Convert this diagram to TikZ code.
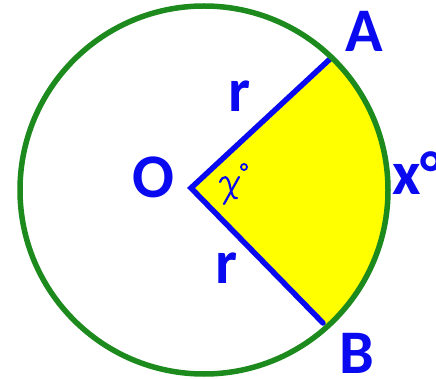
\documentclass[tikz,border=0pt]{standalone}
\usepackage{fontspec}
\setmainfont{Carlito}
\usepackage{tikz}
\usetikzlibrary{calc}
\definecolor{sectorblue}{RGB}{10,10,240}
\definecolor{ringgreen}{RGB}{28,138,28}
\definecolor{sectoryellow}{RGB}{255,255,0}
\tikzset{
  lbl/.style={text=sectorblue, inner sep=0pt,
    font=\fontsize{62}{62}\selectfont\bfseries},
  radius line/.style={line width=5.5pt, sectorblue, line cap=round, line join=miter},
  mark line/.style={sectorblue, line width=2.2pt, line cap=round}
}

\begin{document}
\begin{tikzpicture}[x=1pt, y=-1pt]

  \useasboundingbox (0,0) rectangle (436,379);

  % === POINTS ===
  \coordinate (C) at (204,190);
  \coordinate (O) at (191,188);
  \coordinate (A) at (330,59);
  \coordinate (B) at (323,323);

  % Shaded sector
  \begin{scope}
    \clip (O) -- ($(O)!2!(A)$) -- ($(O)!2!(B)$) -- cycle;
    \fill[sectoryellow] (C) circle (184);
  \end{scope}

  % Radii
  \draw[radius line] (A) -- (O) -- (B);

  % Circle
  \draw[ringgreen, line width=5.5pt] (C) circle (184);

  % Angle mark
  \draw[mark line]
    (220,182) .. controls (223,175) and (228,175) ..
    (230,186) .. controls (232,195) and (233,199) .. (237,198);
  \draw[mark line] (239,177) -- (224,204);
  \draw[mark line, line width=1.8pt] (244,167) circle (3);

  % === LABELS ===
  \node[lbl] (labA) at (364,31) {A};
  \node[lbl] (labB) at (357,353) {B};
  \node[lbl] (labO) at (153,177) {O};
  \node[lbl] (labr1) at (240,96) {r};
  \node[lbl] (labr2) at (227,268) {r};
  \node[lbl, anchor=base west] (labx) at (392,195) {x°};

\end{tikzpicture}
\end{document}
